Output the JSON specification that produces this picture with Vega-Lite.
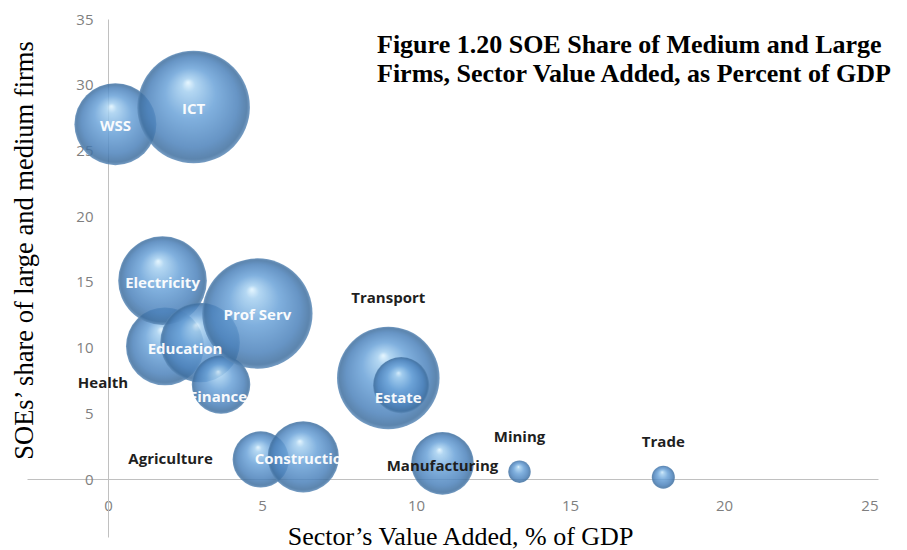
{
  "$schema": "https://vega.github.io/schema/vega-lite/v6.json",
  "width": 851,
  "height": 518,
  "autosize": {"type": "none"},
  "padding": {"left": 27, "top": 19, "right": 29, "bottom": 13},
  "background": "white",
  "config": {"view": {"stroke": null}},
  "title": {
    "text": ["Figure 1.20 SOE Share of Medium and Large", "Firms, Sector Value Added, as Percent of GDP"],
    "font": "Liberation Serif",
    "fontSize": 26,
    "fontWeight": "bold",
    "color": "#000000",
    "anchor": "start",
    "frame": "group",
    "orient": "top",
    "dx": 350,
    "offset": -75,
    "lineHeight": 29
  },
  "data": {
    "values": [
      {"sector": "Health", "va": 1.85, "soe": 10.1, "bubble": 48},
      {"sector": "Electricity", "va": 1.77, "soe": 15.1, "bubble": 62},
      {"sector": "Education", "va": 2.99, "soe": 10.4, "bubble": 50},
      {"sector": "Finance", "va": 3.67, "soe": 7.2, "bubble": 27},
      {"sector": "Prof Serv", "va": 4.85, "soe": 12.6, "bubble": 96},
      {"sector": "WSS", "va": 0.24, "soe": 27.0, "bubble": 53},
      {"sector": "ICT", "va": 2.78, "soe": 28.3, "bubble": 100},
      {"sector": "Transport", "va": 9.1, "soe": 7.7, "bubble": 83},
      {"sector": "Estate", "va": 9.52, "soe": 7.15, "bubble": 25},
      {"sector": "Agriculture", "va": 4.96, "soe": 1.5, "bubble": 25},
      {"sector": "Construction", "va": 6.34, "soe": 1.7, "bubble": 40},
      {"sector": "Manufacturing", "va": 10.86, "soe": 1.2, "bubble": 31},
      {"sector": "Mining", "va": 13.36, "soe": 0.57, "bubble": 4},
      {"sector": "Trade", "va": 18.03, "soe": 0.15, "bubble": 4.2}
    ]
  },
  "encoding": {
    "x": {
      "field": "va",
      "type": "quantitative",
      "scale": {"domain": [-2.63, 25], "nice": false, "zero": false},
      "axis": {
        "values": [0, 5, 10, 15, 20, 25],
        "offset": -58,
        "grid": false,
        "ticks": false,
        "tickSize": 0,
        "domainColor": "#c0c0c0",
        "domainWidth": 1,
        "labelFont": "Open Sans",
        "labelFontSize": 15,
        "labelColor": "#7f7f7f",
        "labelBaseline": "middle",
        "labelPadding": 26,
        "title": "Sector’s Value Added, % of GDP",
        "titleFont": "Liberation Serif",
        "titleFontSize": 26,
        "titleFontWeight": "normal",
        "titleColor": "#000000",
        "titleAlign": "center",
        "titleBaseline": "alphabetic",
        "titleX": 433,
        "titleY": 65
      }
    },
    "y": {
      "field": "soe",
      "type": "quantitative",
      "scale": {"domain": [-4.4, 35], "nice": false, "zero": false},
      "axis": {
        "values": [0, 5, 10, 15, 20, 25, 30, 35],
        "offset": -81,
        "grid": false,
        "ticks": false,
        "tickSize": 0,
        "domainColor": "#c0c0c0",
        "domainWidth": 1,
        "labelFont": "Open Sans",
        "labelFontSize": 15,
        "labelColor": "#7f7f7f",
        "labelPadding": 15,
        "title": "SOEs’ share of large and medium firms",
        "titleFont": "Liberation Serif",
        "titleFontSize": 26.5,
        "titleFontWeight": "normal",
        "titleColor": "#000000",
        "titleAngle": -90,
        "titleAlign": "center",
        "titleBaseline": "alphabetic",
        "titleX": -76,
        "titleY": 231
      }
    }
  },
  "layer": [
    {
      "mark": {
        "type": "point",
        "shape": "circle",
        "filled": true,
        "opacity": 0.85,
        "strokeWidth": 0,
        "fill": {
          "gradient": "radial",
          "x1": 0.45, "y1": 0.28, "r1": 0.0,
          "x2": 0.5, "y2": 0.5, "r2": 0.5,
          "stops": [
            {"offset": 0, "color": "#e2f5ff"},
            {"offset": 0.12, "color": "#a6d0f0"},
            {"offset": 0.45, "color": "#6aa2d8"},
            {"offset": 0.8, "color": "#4c82bb"},
            {"offset": 0.95, "color": "#3f6f9f"},
            {"offset": 1, "color": "#5e8cba"}
          ]
        }
      },
      "encoding": {
        "size": {
          "field": "bubble",
          "type": "quantitative",
          "scale": {"type": "linear", "domain": [0, 100], "range": [0, 12667]},
          "legend": null
        }
      }
    },
    {
      "transform": [{"filter": {"field": "sector", "oneOf": ["WSS", "ICT", "Electricity", "Prof Serv", "Construction"]}}],
      "mark": {"type": "text", "font": "Open Sans", "fontSize": 15, "fontWeight": "bold", "color": "#ffffff", "opacity": 0.95, "dy": 2},
      "encoding": {"text": {"field": "sector"}}
    },
    {
      "transform": [{"filter": {"field": "sector", "equal": "Education"}}],
      "mark": {"type": "text", "font": "Open Sans", "fontSize": 15, "fontWeight": "bold", "color": "#ffffff", "opacity": 0.95, "dx": -15, "dy": 7},
      "encoding": {"text": {"field": "sector"}}
    },
    {
      "transform": [{"filter": {"field": "sector", "oneOf": ["Finance", "Estate"]}}],
      "mark": {"type": "text", "font": "Open Sans", "fontSize": 15, "fontWeight": "bold", "color": "#ffffff", "opacity": 0.95, "dx": -3, "dy": 13},
      "encoding": {"text": {"field": "sector"}}
    },
    {
      "transform": [{"filter": {"field": "sector", "equal": "Health"}}],
      "mark": {"type": "text", "font": "Open Sans", "fontSize": 15, "fontWeight": "bold", "color": "#1f1f1f", "dx": -62, "dy": 37},
      "encoding": {"text": {"field": "sector"}}
    },
    {
      "transform": [{"filter": {"field": "sector", "equal": "Agriculture"}}],
      "mark": {"type": "text", "font": "Open Sans", "fontSize": 15, "fontWeight": "bold", "color": "#1f1f1f", "align": "right", "dx": -48},
      "encoding": {"text": {"field": "sector"}}
    },
    {
      "transform": [{"filter": {"field": "sector", "equal": "Transport"}}],
      "mark": {"type": "text", "font": "Open Sans", "fontSize": 15, "fontWeight": "bold", "color": "#1f1f1f", "dy": -80},
      "encoding": {"text": {"field": "sector"}}
    },
    {
      "transform": [{"filter": {"field": "sector", "oneOf": ["Mining", "Trade"]}}],
      "mark": {"type": "text", "font": "Open Sans", "fontSize": 15, "fontWeight": "bold", "color": "#1f1f1f", "dy": -35},
      "encoding": {"text": {"field": "sector"}}
    },
    {
      "transform": [{"filter": {"field": "sector", "equal": "Manufacturing"}}],
      "mark": {"type": "text", "font": "Open Sans", "fontSize": 15, "fontWeight": "bold", "color": "#1f1f1f", "dy": 3},
      "encoding": {"text": {"field": "sector"}}
    }
  ]
}
